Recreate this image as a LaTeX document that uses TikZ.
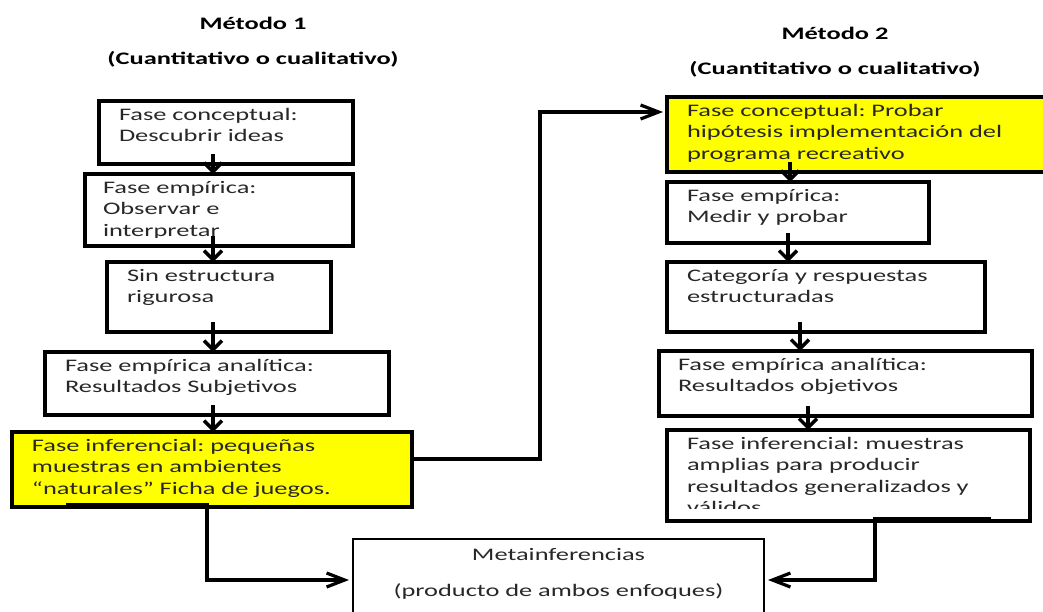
\documentclass[tikz,border=0pt]{standalone}
\usepackage{fontspec}
\setmainfont{Carlito}[FakeStretch=1.5]
\usepackage{tikz}
\definecolor{markyellow}{RGB}{255, 255, 0}
\definecolor{textgray}{RGB}{40, 40, 40}
\usetikzlibrary{arrows.meta}
\frenchspacing

\begin{document}
\begin{tikzpicture}[
    x=0.5pt, y=-0.5pt,
    txt/.style={anchor=north west, align=left, inner xsep=10pt, inner ysep=0pt, outer sep=0pt, text height=9.5pt, text=textgray, font=\fontsize{8.8}{10.75}\selectfont},
    box/.style={txt, draw, line width=2.3pt, fill=white},
    title/.style={inner sep=0pt, font=\fontsize{8.8}{10.75}\selectfont\bfseries},
    arrow/.style={-{Straight Barb[length=4.5pt, width=9pt]}, line width=1.7pt, shorten <=-5pt},
    link/.style={-{Straight Barb[length=9pt, width=7pt]}, line width=1.6pt, shorten >=2pt}
]
    \useasboundingbox (0,0) rectangle (1043,611);

    % titles
    \node[title] (m1) at (253,23) {Método 1};
    \node[title] (m1sub) at (253,59) {(Cuantitativo o cualitativo)};
    \node[title] (m2) at (835,33) {Método 2};
    \node[title] (m2sub) at (835,69) {(Cuantitativo o cualitativo)};

    % method 1
    \node[box, text width=107pt, text depth=22pt] (fc1) at (99,101) {Fase conceptual:\\Descubrir ideas};
    \node[box, inner xsep=9pt, text width=116pt, text depth=26.5pt] (fe1) at (85,174) {};
    \begin{scope}
        \clip (fe1.north west) rectangle ([yshift=4.5pt]fe1.south east);
        \node[txt, inner xsep=9pt, text width=116pt] (fe1txt) at (fe1.north west) {Fase empírica:\\Observar e\\interpretar};
    \end{scope}
    \node[box, text width=92pt, text depth=25.5pt] (se1) at (107,262) {Sin estructura\\rigurosa};
    \node[box, text width=152pt, text depth=22pt] (fa1) at (45,352) {Fase empírica analítica:\\Resultados Subjetivos};
    \node[box, fill=markyellow, text width=180pt, text depth=28pt] (fi1) at (12,432) {Fase inferencial: pequeñas\\muestras en ambientes\\“naturales” Ficha de juegos.};

    % method 2
    \node[box, fill=markyellow, text width=170.5pt, text depth=28pt] (fc2) at (667,97) {Fase conceptual: Probar\\hipótesis implementación del\\programa recreativo};
    \node[box, text width=111pt, text depth=21pt] (fe2) at (667,182) {Fase empírica:\\Medir y probar};
    \node[box, text width=139pt, text depth=25.5pt] (ce2) at (667,262) {Categoría y respuestas\\estructuradas};
    \node[box, inner xsep=9.5pt, text width=167.5pt, text depth=23pt] (fa2) at (659,351) {Fase empírica analítica:\\Resultados objetivos};
    \node[box, text width=161.5pt, text depth=36pt] (fi2) at (667,430) {};
    \begin{scope}
        \clip (fi2.north west) rectangle ([yshift=6.5pt]fi2.south east);
        \node[txt, text width=161.5pt] (fi2txt) at (fi2.north west) {Fase inferencial: muestras\\amplias para producir\\resultados generalizados y\\válidos};
    \end{scope}

    \node[box, line width=0.6pt, align=center, text width=185.5pt, text height=10.5pt, text depth=44.5pt] (meta) at (353,539) {Metainferencias\\[7.25pt](producto de ambos enfoques)};

    % arrow columns and bends
    \coordinate (xl) at (213,0);
    \coordinate (xa) at (790,0);
    \coordinate (xb) at (788,0);
    \coordinate (xc) at (800,0);
    \coordinate (xd) at (808,0);
    \coordinate (up) at (540,112);
    \coordinate (dl) at (207,580);
    \coordinate (dr) at (875,580);

    \draw[arrow] (fc1.south -| xl) -- (fe1.north -| xl);
    \draw[arrow] (fe1.south -| xl) -- (se1.north -| xl);
    \draw[arrow] (se1.south -| xl) -- (fa1.north -| xl);
    \draw[arrow] (fa1.south -| xl) -- (fi1.north -| xl);

    \draw[arrow] (fc2.south -| xa) -- (fe2.north -| xa);
    \draw[arrow] (fe2.south -| xb) -- (ce2.north -| xb);
    \draw[arrow] (ce2.south -| xc) -- (fa2.north -| xc);
    \draw[arrow] (fa2.south -| xd) -- (fi2.north -| xd);

    \draw[link] ([yshift=5.25pt]fi1.east) -| (up) -- (fc2.west |- up);
    \draw[link] ([xshift=27pt, yshift=1pt]fi1.south west) -| (dl) -- (meta.west |- dl);
    \draw[link] ([xshift=-19.5pt, yshift=1pt]fi2.south east) -| (dr) -- (meta.east |- dr);
\end{tikzpicture}
\end{document}
